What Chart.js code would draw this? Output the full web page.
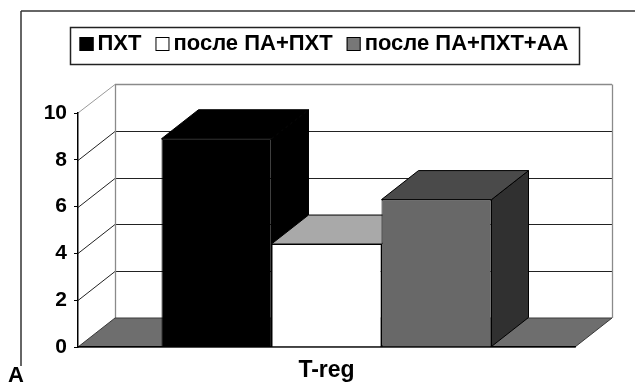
<!DOCTYPE html>
<html>
<head>
<meta charset="utf-8">
<script src="https://cdn.jsdelivr.net/npm/chart.js@4.4.1/dist/chart.umd.min.js"></script>
<style>
  html, body { margin: 0; padding: 0; background: #fff; }
  #wrap { position: relative; width: 635px; height: 392px; overflow: hidden; }
  #panel { position: absolute; left: 8px; top: 363px; font: bold 22px 'Liberation Sans', Arial, sans-serif; color: #000; line-height: 24px; }
</style>
</head>
<body>
<div id="wrap">
  <canvas id="c" width="635" height="392"></canvas>
  <div id="panel">A</div>
</div>
<script>
// Chart data
const categories = ['T-reg'];
const seriesNames = ['ПХТ', 'после ПА+ПХТ', 'после ПА+ПХТ+АА'];
const pxtValues = [8.9];
const paPxtValues = [4.4];
const paPxtAaValues = [6.3];
const yTicks = [0, 2, 4, 6, 8, 10];

// Styling for the pseudo-3D columns: front / top / side faces
const faceColors = [
  { front: '#000000', top: '#000000', side: '#000000', key: '#000000' },
  { front: '#ffffff', top: '#a9a9a9', side: '#d2d2d2', key: '#ffffff' },
  { front: '#686868', top: '#4a4a4a', side: '#303030', key: '#777777' }
];
const DEPTH_X = 37;   // horizontal offset of the back plane
const DEPTH_Y = -29;  // vertical offset of the back plane
const FONT = "'Liberation Sans', Arial, sans-serif";

function poly(ctx, pts, fill, stroke, lw) {
  ctx.beginPath();
  ctx.moveTo(pts[0][0], pts[0][1]);
  for (let i = 1; i < pts.length; i++) ctx.lineTo(pts[i][0], pts[i][1]);
  ctx.closePath();
  if (fill) { ctx.fillStyle = fill; ctx.fill(); }
  if (stroke) { ctx.strokeStyle = stroke; ctx.lineWidth = lw || 1; ctx.stroke(); }
}
function line(ctx, x1, y1, x2, y2, color, lw) {
  ctx.beginPath();
  ctx.moveTo(x1, y1); ctx.lineTo(x2, y2);
  ctx.strokeStyle = color; ctx.lineWidth = lw || 1; ctx.stroke();
}

// Frame, walls, floor and gridlines behind the columns
const scenePlugin = {
  id: 'scene',
  beforeDraw(chart) {
    const ctx = chart.ctx;
    const { left: L, right: R } = chart.chartArea;
    const y = chart.scales.y;
    const dx = DEPTH_X, dy = DEPTH_Y;
    const y0 = y.getPixelForValue(0);
    const yMax = y.getPixelForValue(yTicks[yTicks.length - 1]);
    ctx.save();
    ctx.fillStyle = '#fff';
    ctx.fillRect(0, 0, chart.width, chart.height);

    // outer frame
    line(ctx, 21, 11, 635, 11, '#333', 1.5);
    line(ctx, 21, 11, 21, 366, '#333', 1.5);

    // back wall
    poly(ctx, [[L + dx, yMax + dy], [R + dx, yMax + dy], [R + dx, y0 + dy], [L + dx, y0 + dy]], '#fff');
    // gridlines on side wall and back wall
    yTicks.forEach(v => {
      if (v === 0 || v === yTicks[yTicks.length - 1]) return;
      const py = Math.round(y.getPixelForValue(v)) + 0.5;
      line(ctx, L, py, L + dx, py + dy, '#222', 1);
      line(ctx, L + dx, py + dy, R + dx, py + dy, '#222', 1.2);
    });
    // wall outline
    const ty = Math.round(yMax + dy) + 0.5;
    line(ctx, L, yMax, L + dx, ty, '#9a9a9a', 1);
    line(ctx, L + dx, ty, R + dx, ty, '#8a8a8a', 1.3);
    line(ctx, L + dx + 0.5, ty, L + dx + 0.5, y0 + dy, '#8a8a8a', 1.3);
    line(ctx, R + dx + 0.5, ty, R + dx + 0.5, y0 + dy, '#8a8a8a', 1.3);

    // floor
    poly(ctx, [[L, y0], [R, y0], [R + dx, y0 + dy], [L + dx, y0 + dy]], '#6e6e6e', '#3a3a3a', 1);
    ctx.restore();
  },
  // top and side faces of every column, left to right, before the fronts
  beforeDatasetsDraw(chart) {
    const ctx = chart.ctx;
    const dx = DEPTH_X, dy = DEPTH_Y;
    const bars = [];
    chart.data.datasets.forEach((ds, di) => {
      const meta = chart.getDatasetMeta(di);
      meta.data.forEach(el => {
        const p = el.getProps(['x', 'y', 'base', 'width'], true);
        bars.push({ p, c: faceColors[di] });
      });
    });
    bars.sort((a, b) => a.p.x - b.p.x);
    ctx.save();
    ctx.lineJoin = 'miter';
    bars.forEach(({ p, c }) => {
      const l = p.x - p.width / 2, r = p.x + p.width / 2, t = p.y, b = p.base;
      poly(ctx, [[r, t], [r + dx, t + dy], [r + dx, b + dy], [r, b]], c.side, '#000', 1);
      poly(ctx, [[l, t], [r, t], [r + dx, t + dy], [l + dx, t + dy]], c.top, '#000', 1);
    });
    ctx.restore();
  },
  // boxed legend
  afterDraw(chart) {
    const ctx = chart.ctx;
    ctx.save();
    ctx.font = 'bold 22px ' + FONT;
    ctx.textBaseline = 'middle';
    const box = 14, gapText = 4, gapItem = 14;
    const widths = seriesNames.map(s => ctx.measureText(s).width);
    const total = widths.reduce((a, w) => a + box + gapText + w, 0) + gapItem * (seriesNames.length - 1);
    const cx = 324, cy = 44;
    let x = cx - total / 2;
    ctx.fillStyle = '#fff';
    ctx.fillRect(70, 27, 510, 38);
    ctx.strokeStyle = '#222';
    ctx.lineWidth = 1.5;
    ctx.strokeRect(70.5, 27.5, 509, 37);
    seriesNames.forEach((s, i) => {
      ctx.fillStyle = faceColors[i].key;
      ctx.fillRect(x, cy - 7, box, box);
      ctx.strokeStyle = '#000';
      ctx.lineWidth = 1;
      ctx.strokeRect(x + 0.5, cy - 6.5, box - 1, box - 1);
      ctx.fillStyle = '#000';
      ctx.fillText(s, x + box + gapText, cy);
      x += box + gapText + widths[i] + gapItem;
    });
    ctx.restore();
  }
};

const datasets = [pxtValues, paPxtValues, paPxtAaValues].map((vals, i) => ({
  label: seriesNames[i],
  data: vals,
  backgroundColor: faceColors[i].front,
  borderColor: '#000',
  borderWidth: 1,
  categoryPercentage: 0.664,
  barPercentage: 1.0
}));

new Chart(document.getElementById('c'), {
  type: 'bar',
  data: { labels: categories, datasets },
  plugins: [scenePlugin],
  options: {
    responsive: false,
    animation: false,
    devicePixelRatio: 1,
    layout: { padding: { left: 0, right: 60, top: 113, bottom: 0 } },
    plugins: { legend: { display: false }, tooltip: { enabled: false } },
    scales: {
      x: {
        z: 1,
        afterFit(s) { s.height = 45; },
        grid: { display: true, drawOnChartArea: false, drawTicks: false },
        border: { display: true, color: '#000', width: 1.5 },
        ticks: { color: '#000', padding: 10, font: { family: FONT, size: 23, weight: 'bold' } }
      },
      y: {
        min: 0,
        max: 10,
        afterFit(s) { s.width = 78; },
        afterBuildTicks(s) { s.ticks = yTicks.map(v => ({ value: v })); },
        grid: { display: true, drawOnChartArea: false, drawTicks: true, tickLength: 4, color: '#000' },
        border: { display: true, color: '#000', width: 1.5 },
        ticks: { color: '#000', padding: 7, font: { family: FONT, size: 21, weight: 'bold' } }
      }
    }
  }
});
</script>
</body>
</html>
